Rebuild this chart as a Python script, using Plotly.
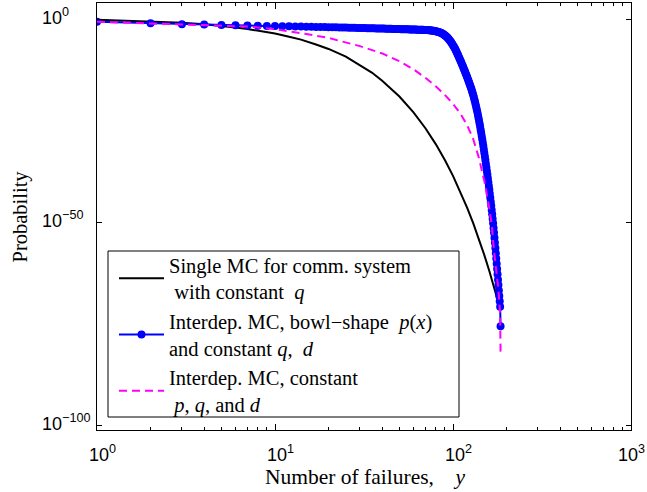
import plotly.graph_objects as go

# ---------------- data (log10 of probability) ----------------
black_x = [1, 2, 3, 4, 5, 6, 7, 8, 10, 12, 14, 17, 20, 25, 30, 35, 40, 50, 60, 70, 80,
           90, 100, 110, 120, 130, 140, 150, 160, 170, 177]
black_log10 = [-0.1, -0.5, -0.85, -1.2, -1.6, -2.0, -2.4, -2.8, -3.5, -4.3, -5.0, -6.2,
               -7.3, -9.2, -11.2, -13.1, -15.1, -19.0, -22.9, -26.8, -30.7, -34.6, -38.5,
               -42.4, -46.3, -50.2, -54.1, -58.0, -61.9, -65.8, -68.6]

blue_x = list(range(1, 186))
blue_log10 = [
    -0.60, -1.00, -1.20, -1.30, -1.40, -1.47, -1.53, -1.58, -1.63, -1.67,
    -1.71, -1.74, -1.77, -1.80, -1.83, -1.86, -1.88, -1.90, -1.92, -1.94,
    -1.96, -1.98, -2.00, -2.02, -2.04, -2.06, -2.08, -2.10, -2.12, -2.14,
    -2.16, -2.17, -2.19, -2.20, -2.22, -2.23, -2.25, -2.26, -2.28, -2.29,
    -2.30, -2.32, -2.33, -2.34, -2.36, -2.37, -2.38, -2.40, -2.41, -2.42,
    -2.43, -2.44, -2.45, -2.46, -2.47, -2.48, -2.49, -2.50, -2.51, -2.52,
    -2.53, -2.54, -2.55, -2.56, -2.57, -2.58, -2.59, -2.60, -2.61, -2.62,
    -2.64, -2.66, -2.68, -2.71, -2.74, -2.77, -2.81, -2.85, -2.90, -2.95,
    -3.01, -3.07, -3.14, -3.21, -3.29, -3.39, -3.51, -3.64, -3.78, -3.94,
    -4.12, -4.31, -4.51, -4.73, -4.97, -5.22, -5.48, -5.76, -6.06, -6.37,
    -6.69, -7.03, -7.39, -7.76, -8.14, -8.53, -8.92, -9.32, -9.71, -10.11,
    -10.51, -10.92, -11.32, -11.73, -12.14, -12.55, -12.96, -13.37, -13.79, -14.21,
    -14.63, -15.06, -15.49, -15.92, -16.35, -16.78, -17.23, -17.70, -18.19, -18.70,
    -19.23, -19.78, -20.35, -20.94, -21.55, -22.18, -22.83, -23.50, -24.19, -24.90,
    -25.63, -26.38, -27.14, -27.91, -28.70, -29.51, -30.33, -31.16, -32.01, -32.87,
    -33.74, -34.61, -35.50, -36.39, -37.29, -38.20, -39.12, -40.05, -40.99, -41.94,
    -42.90, -43.87, -44.85, -45.85, -46.88, -47.95, -49.04, -50.16, -51.31, -52.49,
    -53.70, -54.94, -56.22, -57.51, -58.81, -60.11, -61.42, -62.73, -64.05, -65.37,
    -66.70, -68.03, -69.37, -70.72, -75.50,
]

magenta_x = [1, 2, 3, 4, 5, 6, 7, 8, 10, 12, 15, 20, 25, 30, 40, 50, 60, 70, 80, 90,
             100, 110, 120, 130, 140, 150, 160, 165, 170, 175, 180, 184, 185]
magenta_log10 = [-0.6, -1.0, -1.2, -1.35, -1.5, -1.65, -1.8, -2.0, -2.4, -3.0, -3.6,
                 -4.6, -5.7, -6.6, -8.4, -10.3, -12.3, -14.4, -16.5, -18.6, -20.8, -23.2,
                 -26.0, -29.5, -34.2, -39.8, -46.5, -50.5, -57.0, -61.8, -66.5, -72.5, -82.0]

NB = "\u00a0"
series_names = [
    "Single MC for comm. system<br>" + NB + "with constant" + NB * 2 + "<i>q</i>",
    "Interdep. MC, bowl\u2212shape" + NB * 2 + "<i>p</i>(<i>x</i>)<br>and constant <i>q</i>,"
    + NB * 2 + "<i>d</i>",
    "Interdep. MC, constant<br>" + NB + "<i>p</i>, <i>q</i>, and <i>d</i>",
]

x_tick_exps = [0, 1, 2, 3]
y_tick_exps = [0, -50, -100]
x_minor_vals = [m * 10 ** e for e in range(0, 3) for m in range(2, 10)]

# ---------------- figure ----------------
def pw(vals):
    return [10 ** v for v in vals]

fig = go.Figure()
fig.add_trace(go.Scatter(x=black_x, y=pw(black_log10), mode="lines",
                         line=dict(color="black", width=2), name=series_names[0]))
fig.add_trace(go.Scatter(x=blue_x, y=pw(blue_log10), mode="lines+markers",
                         line=dict(color="#0000FF", width=2),
                         marker=dict(color="#0000FF", size=8), name=series_names[1]))
fig.add_trace(go.Scatter(x=magenta_x, y=pw(magenta_log10), mode="lines",
                         line=dict(color="#FF00FF", width=2, dash="8px,5px"),
                         name=series_names[2]))

L, R, T, B = 97, 16, 3, 62
W, H = 647, 492
pw_ = W - L - R
ph_ = H - T - B

def px_x(p):
    return (p - L) / pw_

def px_y(p):
    return (H - B - p) / ph_

axis_common = dict(showline=True, linecolor="black", linewidth=1, mirror="allticks",
                   ticks="inside", showgrid=False, zeroline=False, showticklabels=False)

fig.update_xaxes(type="log", range=[0, 3], tickvals=[10 ** e for e in x_tick_exps],
                 ticklen=6, tickcolor="black",
                 minor=dict(tickvals=x_minor_vals, ticks="inside", ticklen=3,
                            tickcolor="black", showgrid=False),
                 **axis_common)
fig.update_yaxes(type="log", range=[-101, 4], tickvals=[10.0 ** e for e in y_tick_exps],
                 ticklen=5, tickcolor="black", **axis_common)

tick_font = dict(family="Liberation Sans, Arial, sans-serif", size=18, color="black")
serif = dict(family="Liberation Serif, Times New Roman, serif", size=20.5, color="black")
serif_x = dict(family="Liberation Serif, Times New Roman, serif", size=21.5, color="black")

ann = []
for e in x_tick_exps:
    ann.append(dict(x=e, xref="x", y=px_y(453), yref="paper",
                    text="10<sup>%d</sup>" % e, showarrow=False, xanchor="left",
                    yanchor="middle", xshift=-15 if e == 3 else -10, yshift=0,
                    font=tick_font))
for e in y_tick_exps:
    lab = ("10<sup>%d</sup>" % e).replace("-", "\u2212")
    ann.append(dict(x=px_x(40), xref="paper", y=e, yref="y", text=lab,
                    showarrow=False, xanchor="left", yanchor="middle", yshift=3,
                    font=tick_font))
ann.append(dict(x=px_x(263), xref="paper", y=px_y(477), yref="paper",
                text="Number of failures," + NB * 4 + "<i>y</i>", showarrow=False,
                xanchor="left", yanchor="middle", font=serif_x))
ann.append(dict(x=px_x(20), xref="paper", y=0.5, yref="paper",
                text="Probability", textangle=-90, showarrow=False,
                xanchor="center", yanchor="middle", font=serif))

shapes = [dict(type="rect", xref="paper", yref="paper",
               x0=px_x(108), x1=px_x(459), y0=px_y(417), y1=px_y(251),
               fillcolor="white", line=dict(color="black", width=1), layer="above")]

fig.update_layout(
    width=W, height=H, margin=dict(l=L, r=R, t=T, b=B, pad=0),
    plot_bgcolor="white", paper_bgcolor="white",
    annotations=ann, shapes=shapes,
    legend=dict(x=px_x(114), y=px_y(245), xanchor="left", yanchor="top",
                bgcolor="rgba(0,0,0,0)", borderwidth=0,
                font=serif, itemwidth=45, tracegroupgap=0),
    showlegend=True,
)

fig.write_html("out.html", config={"displayModeBar": False},
               post_script="document.body.style.margin='0';document.body.style.padding='0';")
